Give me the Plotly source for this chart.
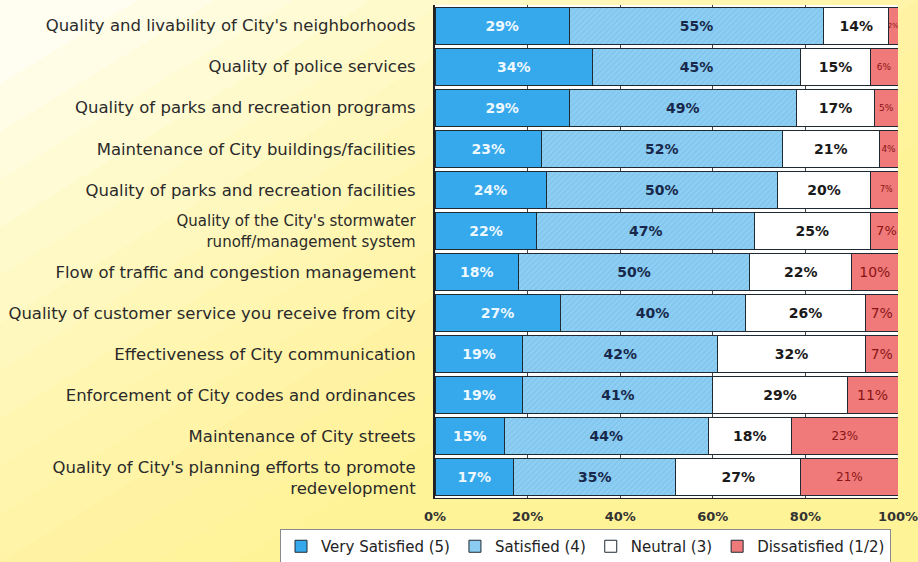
import plotly.graph_objects as go

categories = [
    "Quality and livability of City's neighborhoods",
    "Quality of police services",
    "Quality of parks and recreation programs",
    "Maintenance of City buildings/facilities",
    "Quality of parks and recreation facilities",
    "<span style='font-size:15px'>Quality of the City's stormwater<br>runoff/management system</span>",
    "Flow of traffic and congestion management",
    "Quality of customer service you receive from city",
    "Effectiveness of City communication",
    "Enforcement of City codes and ordinances",
    "Maintenance of City streets",
    "Quality of City's planning efforts to promote<br>redevelopment",
]
very_satisfied = [29, 34, 29, 23, 24, 22, 18, 27, 19, 19, 15, 17]
satisfied = [55, 45, 49, 52, 50, 47, 50, 40, 42, 41, 44, 35]
neutral = [14, 15, 17, 21, 20, 25, 22, 26, 32, 29, 18, 27]
dissatisfied = [2, 6, 5, 4, 7, 7, 10, 7, 7, 11, 23, 21]
series_names = ["Very Satisfied (5)", "Satisfied (4)", "Neutral (3)", "Dissatisfied (1/2)"]
tick_vals = [0, 20, 40, 60, 80, 100]
tick_text = ["0%", "20%", "40%", "60%", "80%", "100%"]

FONT = "'DejaVu Sans', Arial, sans-serif"
dis_sizes = [7, 9, 9, 9, 8, 13, 14, 14, 14, 14, 12, 12]

W, H = 918, 562
ML, MR, MT, MB = 435, 20, 5, 64
PW, PH = W - ML - MR, H - MT - MB

fig = go.Figure()
line = dict(color="#1f2a33", width=1)
common = dict(orientation="h", textposition="inside", insidetextanchor="middle",
              textangle=0, constraintext="none")
fig.add_trace(go.Bar(
    y=categories, x=very_satisfied, name=series_names[0],
    marker=dict(color="#35a9ec", line=line),
    text=[f"{v}%" for v in very_satisfied],
    textfont=dict(family=FONT, size=14, color="#eef8ff", weight="bold"), **common,
))
fig.add_trace(go.Bar(
    y=categories, x=satisfied, name=series_names[1],
    marker=dict(color="#8dcff4", line=line,
                pattern=dict(shape="/", fgcolor="#7dbfe6", bgcolor="#8dcff4",
                             size=4, solidity=0.25, fillmode="replace")),
    text=[f"{v}%" for v in satisfied],
    textfont=dict(family=FONT, size=14, color="#17284a", weight="bold"), **common,
))
fig.add_trace(go.Bar(
    y=categories, x=neutral, name=series_names[2],
    marker=dict(color="#ffffff", line=line),
    text=[f"{v}%" for v in neutral],
    textfont=dict(family=FONT, size=14, color="#1a1a1a", weight="bold"), **common,
))
fig.add_trace(go.Bar(
    y=categories, x=dissatisfied, name=series_names[3],
    marker=dict(color="#f07a7a", line=line),
    text=[f"{v}%" for v in dissatisfied],
    textfont=dict(family=FONT, size=dis_sizes, color="#8a1414"), **common,
))

# background gradient (cream top-left -> yellow toward bottom/right), full-figure coords
def to_paper(u, v):
    px = u * W
    py = v * H
    return (px - ML) / PW, (py - MB) / PH

shapes = []
n = 14
for i in range(n):
    k = -0.85 + i * 0.085
    poly = [(0, 0), (1, 0), (1, 1), (0, 1)]
    def inside(p):
        return p[0] - p[1] >= k
    out = []
    for j in range(4):
        a = poly[j]; b = poly[(j + 1) % 4]
        ia, ib = inside(a), inside(b)
        if ia:
            out.append(a)
        if ia != ib:
            fa = a[0] - a[1] - k; fb = b[0] - b[1] - k
            t = fa / (fa - fb)
            out.append((a[0] + t * (b[0] - a[0]), a[1] + t * (b[1] - a[1])))
    if len(out) < 3:
        continue
    pts = [to_paper(*p) for p in out]
    path = "M " + " L ".join(f"{p[0]:.4f},{p[1]:.4f}" for p in pts) + " Z"
    shapes.append(dict(type="path", xref="paper", yref="paper", path=path,
                       fillcolor="rgba(250,236,110,0.08)", line=dict(width=0),
                       layer="below"))
shapes.append(dict(type="rect", xref="x domain", yref="y domain", x0=0, x1=1, y0=0, y1=1,
                   fillcolor="#ffffff", line=dict(width=0), layer="below"))

fig.update_layout(
    width=W, height=H,
    barmode="stack", bargap=0.1,
    paper_bgcolor="#fffef0", plot_bgcolor="#ffffff",
    margin=dict(l=ML, r=MR, t=MT, b=MB, autoexpand=False),
    font=dict(family=FONT, size=16, color="#2a2a2a"),
    shapes=shapes,
    showlegend=True,
    legend=dict(orientation="h", xref="paper", yref="paper",
                x=(280 - ML) / PW, xanchor="left",
                y=-(529 - (MT + PH)) / PH, yanchor="top",
                bgcolor="#ffffff", bordercolor="#8a8a8a", borderwidth=1,
                font=dict(family=FONT, size=15, color="#222222"),
                itemwidth=30, tracegroupgap=0, traceorder="normal"),
)
fig.update_xaxes(range=[0, 100], tickvals=tick_vals, ticktext=tick_text,
                 showgrid=True, gridcolor="#444444", gridwidth=1,
                 zeroline=False, showline=True, linecolor="#222222", linewidth=1,
                 tickfont=dict(family=FONT, size=13, color="#333333", weight="bold"),
                 ticks="", ticklabelstandoff=6, ticklabeloverflow="allow")
fig.update_yaxes(autorange="reversed", showline=True, linecolor="#222222", linewidth=2,
                 ticks="", ticklabelstandoff=14,
                 tickfont=dict(family=FONT, size=16.5, color="#2a2a2a"))

fig.write_html("out.html", config={"displayModeBar": False},
               post_script="document.body.style.margin='0';document.body.style.overflow='hidden';")
